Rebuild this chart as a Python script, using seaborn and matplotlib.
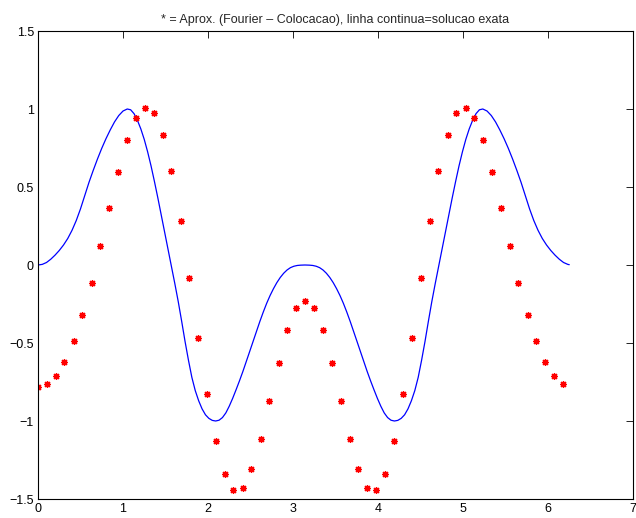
import matplotlib
matplotlib.use("Agg")
import matplotlib.pyplot as plt
import seaborn as sns
import pandas as pd

# exact solution (continuous line)
line_x = [0.00, 0.05, 0.10, 0.15, 0.20, 0.25, 0.30, 0.35, 0.40, 0.45, 0.50, 0.55,
          0.60, 0.65, 0.70, 0.75, 0.80, 0.85, 0.90, 0.95, 1.00, 1.05, 1.09, 1.13,
          1.17, 1.21, 1.25, 1.29, 1.33, 1.37, 1.41, 1.45, 1.49, 1.53, 1.57, 1.61,
          1.65, 1.69, 1.73, 1.77, 1.81, 1.85, 1.89, 1.93, 1.97, 2.01, 2.05, 2.09,
          2.13, 2.17, 2.21, 2.25, 2.29, 2.33, 2.37, 2.41, 2.45, 2.49, 2.53, 2.57,
          2.61, 2.65, 2.69, 2.73, 2.77, 2.81, 2.85, 2.89, 2.93, 2.97, 3.01, 3.05,
          3.09, 3.14,
          3.193, 3.233, 3.273, 3.313, 3.353, 3.393, 3.433, 3.473, 3.513, 3.553,
          3.593, 3.633, 3.673, 3.713, 3.753, 3.793, 3.833, 3.873, 3.913, 3.953,
          3.993, 4.033, 4.073, 4.113, 4.153, 4.193, 4.233, 4.273, 4.313, 4.353,
          4.393, 4.433, 4.473, 4.513, 4.553, 4.593, 4.633, 4.673, 4.713, 4.753,
          4.793, 4.833, 4.873, 4.913, 4.953, 4.993, 5.033, 5.073, 5.113, 5.153,
          5.193, 5.233, 5.283, 5.333, 5.383, 5.433, 5.483, 5.533, 5.583, 5.633,
          5.683, 5.733, 5.783, 5.833, 5.883, 5.933, 5.983, 6.033, 6.083, 6.133,
          6.183, 6.233, 6.250]
line_y = [0.000, 0.004, 0.016, 0.037, 0.063, 0.093, 0.128, 0.170, 0.222, 0.285, 0.360, 0.445,
          0.530, 0.607, 0.680, 0.748, 0.810, 0.866, 0.917, 0.958, 0.987, 1.000, 0.995, 0.970,
          0.927, 0.872, 0.805, 0.725, 0.635, 0.535, 0.430, 0.320, 0.210, 0.100, -0.010, -0.120,
          -0.235, -0.360, -0.490, -0.610, -0.720, -0.805, -0.870, -0.922, -0.960, -0.983, -0.996, -1.000,
          -0.995, -0.978, -0.948, -0.905, -0.855, -0.800, -0.743, -0.683, -0.620, -0.555, -0.490, -0.425,
          -0.362, -0.302, -0.246, -0.196, -0.152, -0.113, -0.080, -0.053, -0.032, -0.017, -0.008, -0.003,
          -0.001, 0.000,
          -0.001, -0.003, -0.008, -0.017, -0.032, -0.053, -0.080, -0.113, -0.152, -0.196,
          -0.246, -0.302, -0.362, -0.425, -0.490, -0.555, -0.620, -0.683, -0.743, -0.800,
          -0.855, -0.905, -0.948, -0.978, -0.995, -1.000, -0.996, -0.983, -0.960, -0.922,
          -0.870, -0.805, -0.720, -0.610, -0.490, -0.360, -0.235, -0.120, -0.010, 0.100,
          0.210, 0.320, 0.430, 0.535, 0.635, 0.725, 0.805, 0.872, 0.927, 0.970,
          0.995, 1.000, 0.987, 0.958, 0.917, 0.866, 0.810, 0.748, 0.680, 0.607,
          0.530, 0.445, 0.360, 0.285, 0.222, 0.170, 0.128, 0.093, 0.063, 0.037,
          0.016, 0.004, 0.002]

# Fourier collocation approximation (stars)
star_x = [0.00, 0.10, 0.21, 0.31, 0.42, 0.52, 0.63, 0.73, 0.84, 0.94,
          1.05, 1.15, 1.26, 1.36, 1.47, 1.57, 1.68, 1.78, 1.88, 1.99,
          2.09, 2.20, 2.30, 2.41, 2.51, 2.62, 2.72, 2.83, 2.93, 3.04,
          3.14, 3.25, 3.35, 3.46, 3.56, 3.67, 3.77, 3.87, 3.98, 4.08,
          4.19, 4.29, 4.40, 4.50, 4.61, 4.71, 4.82, 4.92, 5.03, 5.13,
          5.24, 5.34, 5.45, 5.55, 5.65, 5.76, 5.86, 5.97, 6.07, 6.18]
star_y = [-0.780, -0.763, -0.712, -0.620, -0.489, -0.319, -0.113, 0.120, 0.365, 0.598,
          0.801, 0.942, 1.006, 0.972, 0.835, 0.600, 0.284, -0.083, -0.466, -0.829,
          -1.130, -1.340, -1.442, -1.429, -1.310, -1.113, -0.874, -0.628, -0.417, -0.278,
          -0.229, -0.278, -0.417, -0.628, -0.874, -1.113, -1.310, -1.429, -1.442, -1.340,
          -1.130, -0.829, -0.466, -0.083, 0.284, 0.600, 0.835, 0.972, 1.006, 0.942,
          0.801, 0.598, 0.365, 0.120, -0.113, -0.319, -0.489, -0.620, -0.712, -0.763]

x_ticks = [0, 1, 2, 3, 4, 5, 6, 7]
x_tick_labels = ["0", "1", "2", "3", "4", "5", "6", "7"]
y_ticks = [-1.5, -1, -0.5, 0, 0.5, 1, 1.5]
y_tick_labels = ["\u22121.5", "\u22121", "\u22120.5", "0", "0.5", "1", "1.5"]
title = "* = Aprox. (Fourier \u2013 Colocacao), linha continua=solucao exata"

sns.set_style("white")
plt.rcParams["font.family"] = ["Liberation Sans", "DejaVu Sans"]

fig = plt.figure(figsize=(6.36, 5.18), dpi=100)
ax = fig.add_axes([38 / 636, 1 - 499 / 518, (633 - 38) / 636, (499 - 31) / 518])

df_line = pd.DataFrame({"x": line_x, "y": line_y})
df_star = pd.DataFrame({"x": star_x, "y": star_y})

sns.lineplot(data=df_line, x="x", y="y", sort=False, color="#0000ff",
             linewidth=0.9, ax=ax)
sns.lineplot(data=df_star, x="x", y="y", sort=False, color="#ff0000",
             linestyle="", marker=(8, 2, 0), markersize=5,
             markeredgewidth=0.9, markeredgecolor="#ff0000", ax=ax)

ax.set_xlim(0, 7)
ax.set_ylim(-1.5, 1.5)
ax.set_xticks(x_ticks)
ax.set_xticklabels(x_tick_labels)
ax.set_yticks(y_ticks)
ax.set_yticklabels(y_tick_labels)
ax.set_xlabel("")
ax.set_ylabel("")
ax.tick_params(direction="in", length=5, width=0.6, top=True, right=True,
               labelsize=9, colors="black", pad=3)
for s in ax.spines.values():
    s.set_visible(True)
    s.set_color("black")
    s.set_linewidth(0.8)
ax.set_title(title, fontsize=9, pad=6)

fig.savefig("out.png", dpi=100)
